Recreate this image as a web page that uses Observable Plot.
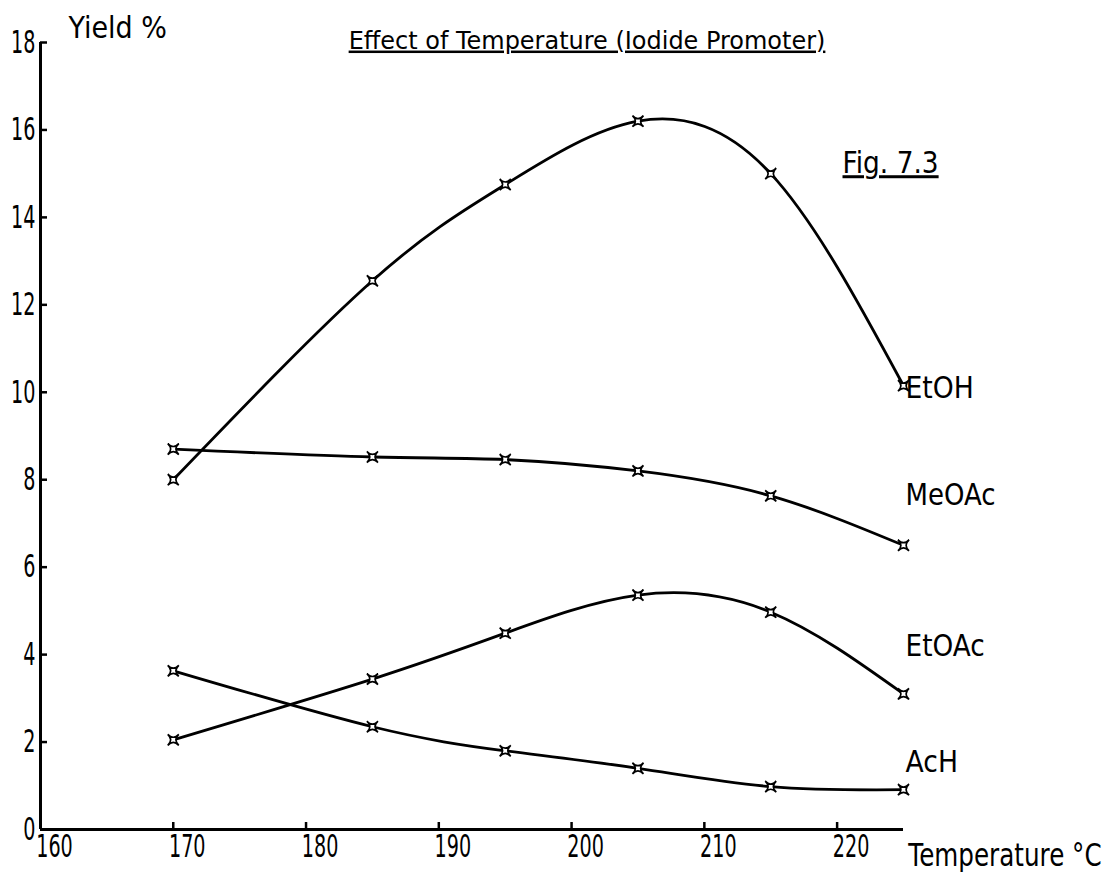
<!DOCTYPE html>
<html><head><meta charset="utf-8">
<script src="https://cdn.jsdelivr.net/npm/d3@7"></script>
<script src="https://cdn.jsdelivr.net/npm/@observablehq/plot@0.6"></script>
<style>
html,body{margin:0;padding:0;background:#fff;}
#chart svg text{font-family:"DejaVu Sans",sans-serif;fill:#000;}
</style></head><body><div id="chart"></div>
<script>
// ---- data ----
const temperatures = [170, 185, 195, 205, 215, 225];
const etoh  = [8.0, 12.55, 14.75, 16.2, 15.0, 10.15];
const meoac = [8.7, 8.52, 8.46, 8.2, 7.63, 6.5];
const etoac = [2.05, 3.44, 4.49, 5.36, 4.97, 3.1];
const ach   = [3.63, 2.35, 1.8, 1.4, 0.98, 0.91];
const seriesNames = ["EtOH", "MeOAc", "EtOAc", "AcH"];
const labelYields = [10.1, 7.65, 4.2, 1.55];
const xTicks = [160, 170, 180, 190, 200, 210, 220];
const yTicks = [0, 2, 4, 6, 8, 10, 12, 14, 16, 18];
const chartTitle = "Effect of Temperature (Iodide Promoter)";
const figLabel = "Fig. 7.3";
const yLabel = "Yield %";
const xLabel = "Temperature °C";

const seriesValues = [etoh, meoac, etoac, ach];
const data = seriesNames.flatMap((name, i) =>
  temperatures.map((t, j) => ({series: name, temp: t, yield: seriesValues[i][j]})));
const labels = seriesNames.map((name, i) => ({name, y: labelYields[i]}));

// four-pointed cross marker
const crossStar = {
  draw(ctx, size) {
    const r = Math.sqrt(size / Math.PI);
    const a = r * 0.85, c = -r * 0.05;
    ctx.moveTo(a, -a);
    ctx.quadraticCurveTo(c, 0, a, a);
    ctx.quadraticCurveTo(0, c, -a, a);
    ctx.quadraticCurveTo(-c, 0, -a, -a);
    ctx.quadraticCurveTo(0, -c, a, -a);
    ctx.closePath();
  }
};

const plot = Plot.plot({
  width: 1115, height: 872,
  marginLeft: 40, marginRight: 212, marginTop: 42, marginBottom: 43,
  x: {domain: [160, 225], label: null},
  y: {domain: [0, 18], label: null},
  style: {fontFamily: "DejaVu Sans", color: "#000", background: "#fff", overflow: "visible"},
  marks: [
    Plot.axisX(xTicks, {tickSize: -7, tickFormat: () => "", strokeWidth: 2.5, label: null}),
    Plot.axisX(xTicks, {tickSize: 0, tickPadding: 5, dx: 14, fontSize: 32, label: null}),
    Plot.axisY(yTicks, {tickSize: -7, tickFormat: () => "", strokeWidth: 2.5, label: null}),
    Plot.axisY(yTicks, {tickSize: 0, tickPadding: 5, fontSize: 32, label: null}),
    Plot.ruleX([160], {strokeWidth: 3}),
    Plot.ruleY([0], {strokeWidth: 3}),
    Plot.line(data, {x: "temp", y: "yield", z: "series", curve: "natural", stroke: "#000", strokeWidth: 2.8}),
    Plot.dot(data, {x: "temp", y: "yield", symbol: crossStar, r: 6.5, stroke: "#000", strokeWidth: 1.7, fill: "#fff"}),
    Plot.text(labels, {y: "y", text: "name", frameAnchor: "right", textAnchor: "start", dx: 2, fontSize: 31}),
    Plot.text([chartTitle], {frameAnchor: "top", dx: 115, dy: -2, fontSize: 25, lineAnchor: "middle"}),
    Plot.text([figLabel], {frameAnchor: "top-left", dx: 802, dy: 121, textAnchor: "start", fontSize: 30, lineAnchor: "middle"}),
    Plot.text([yLabel], {frameAnchor: "top-left", dx: 28, dy: -14, textAnchor: "start", fontSize: 30, lineAnchor: "middle"}),
    Plot.text([xLabel], {frameAnchor: "bottom-right", dx: 5, dy: 26, textAnchor: "start", fontSize: 32, lineAnchor: "middle"})
  ]
});
document.getElementById("chart").appendChild(plot);

// condense the lettering horizontally to resemble the narrow stencil font
const factors = {
  "Temperature °C": 0.77, "Yield %": 0.9, "Fig. 7.3": 0.88,
  "EtOH": 0.86, "MeOAc": 0.84, "EtOAc": 0.85, "AcH": 0.86
};
d3.select(plot).selectAll("text").each(function() {
  const t = this.textContent;
  if (!t) return;
  let f = factors[t];
  const box = this.getBBox();
  if (t === chartTitle) f = 477 / box.width;
  if (f === undefined && /^\d+$/.test(t)) f = 0.6;
  if (f !== undefined) {
    const anchor = getComputedStyle(this).textAnchor ||
      this.getAttribute("text-anchor") || "start";
    const ax = anchor === "middle" ? box.x + box.width / 2
             : anchor === "end" ? box.x + box.width : box.x;
    const prev = this.getAttribute("transform") || "";
    this.setAttribute("transform",
      `${prev} translate(${ax.toFixed(2)},0) scale(${f.toFixed(4)},1) translate(${(-ax).toFixed(2)},0)`.trim());
  }
  if (t === chartTitle || t === figLabel) this.style.textDecoration = "underline";
});
</script></body></html>
